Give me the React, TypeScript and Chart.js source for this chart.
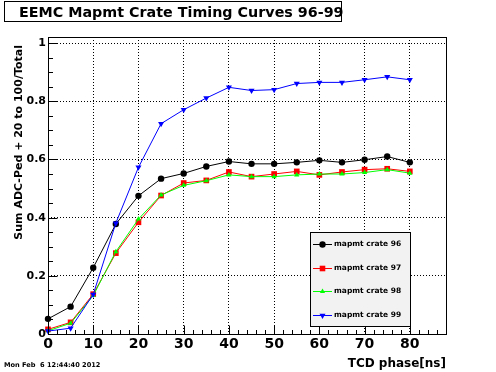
import { useEffect, useRef } from 'react';
import { Chart, registerables } from 'chart.js';

Chart.register(...registerables);

// ---- data ----
const phases = [0, 5, 10, 15, 20, 25, 30, 35, 40, 45, 50, 55, 60, 65, 70, 75, 80];
const crate96 = [0.052, 0.094, 0.228, 0.378, 0.475, 0.534, 0.552, 0.576, 0.593, 0.585, 0.585, 0.59, 0.597, 0.59, 0.599, 0.61, 0.59];
const crate97 = [0.016, 0.04, 0.137, 0.278, 0.384, 0.476, 0.519, 0.528, 0.557, 0.541, 0.55, 0.559, 0.547, 0.557, 0.565, 0.568, 0.559];
const crate98 = [0.011, 0.037, 0.132, 0.283, 0.395, 0.478, 0.511, 0.527, 0.547, 0.541, 0.541, 0.547, 0.55, 0.55, 0.555, 0.565, 0.553];
const crate99 = [0.01, 0.02, 0.136, 0.381, 0.573, 0.723, 0.771, 0.811, 0.848, 0.837, 0.84, 0.861, 0.865, 0.865, 0.874, 0.884, 0.874];
const seriesLabels = ['mapmt crate 96', 'mapmt crate 97', 'mapmt crate 98', 'mapmt crate 99'];
const seriesColors = ['#000000', '#ff0000', '#00ff00', '#0000ff'];

const titleText = 'EEMC Mapmt Crate Timing Curves 96-99';
const xTitle = 'TCD phase[ns]';
const yTitle = 'Sum ADC-Ped + 20 to 100/Total';
const dateText = 'Mon Feb  6 12:44:40 2012';

const xMin = 0, xMax = 88, xMajor = 10, xMinor = 2;
const yMin = 0, yMax = 1.021, yMajor = 0.2, yMinor = 0.05;

const FONT = 'DejaVu Sans';

function drawMarker(ctx: CanvasRenderingContext2D, kind: number, x: number, y: number, color: string) {
  ctx.fillStyle = color;
  ctx.beginPath();
  if (kind === 0) {
    ctx.arc(x, y, 3.2, 0, Math.PI * 2);
  } else if (kind === 1) {
    ctx.rect(x - 2.8, y - 2.8, 5.6, 5.6);
  } else if (kind === 2) {
    ctx.moveTo(x, y - 3); ctx.lineTo(x + 2.6, y + 1.5); ctx.lineTo(x - 2.6, y + 1.5); ctx.closePath();
  } else {
    ctx.moveTo(x, y + 3.5); ctx.lineTo(x + 3, y - 1.75); ctx.lineTo(x - 3, y - 1.75); ctx.closePath();
  }
  ctx.fill();
}

const decorPlugin = {
  id: 'rootDecor',
  afterDraw(chart: any) {
    const ctx: CanvasRenderingContext2D = chart.ctx;
    const { left, right, top, bottom } = chart.chartArea;
    const xs = chart.scales.x;
    const ys = chart.scales.y;
    ctx.save();
    ctx.setLineDash([]);
    ctx.strokeStyle = '#000';
    ctx.lineWidth = 1;
    // frame
    const L = Math.round(left) + 0.5, R = Math.round(right) + 0.5, T = Math.round(top) + 0.5, B = Math.round(bottom) + 0.5;
    ctx.strokeRect(L, T, R - L, B - T);
    // ticks (inside)
    ctx.beginPath();
    const nx = Math.round((xMax - xMin) / xMinor);
    for (let k = 0; k <= nx; k++) {
      const v = xMin + k * xMinor;
      const px = Math.round(xs.getPixelForValue(v)) + 0.5;
      const major = Math.abs(v / xMajor - Math.round(v / xMajor)) < 1e-6;
      const len = major ? 9 : 4.5;
      ctx.moveTo(px, B);
      ctx.lineTo(px, B - len);
    }
    const ny = Math.floor((yMax - yMin) / yMinor + 1e-6);
    for (let k = 0; k <= ny; k++) {
      const v = yMin + k * yMinor;
      const py = Math.round(ys.getPixelForValue(v)) + 0.5;
      const major = k % Math.round(yMajor / yMinor) === 0;
      const len = major ? 9 : 4.5;
      ctx.moveTo(L, py);
      ctx.lineTo(L + len, py);
    }
    ctx.stroke();

    // title box
    ctx.fillStyle = '#fff';
    ctx.fillRect(4.5, 1.5, 337, 20);
    ctx.strokeRect(4.5, 1.5, 337, 20);
    ctx.fillStyle = '#000';
    ctx.font = `bold 14.3px "${FONT}"`;
    ctx.textAlign = 'left';
    ctx.textBaseline = 'alphabetic';
    ctx.fillText(titleText, 19, 17);

    // x title
    ctx.font = `bold 12px "${FONT}"`;
    ctx.textAlign = 'right';
    ctx.fillText(xTitle, 446, 367);

    // y title
    ctx.save();
    ctx.translate(22, 45);
    ctx.rotate(-Math.PI / 2);
    ctx.font = `bold 11px "${FONT}"`;
    ctx.textAlign = 'right';
    ctx.textBaseline = 'alphabetic';
    ctx.fillText(yTitle, 0, 0);
    ctx.restore();

    // date
    ctx.font = `bold 6.6px "${FONT}"`;
    ctx.textAlign = 'left';
    ctx.fillText(dateText, 4, 367);

    // legend
    const lx0 = 310.5, ly0 = 232.5, lw = 100, lh = 94;
    ctx.fillStyle = '#f2f2f2';
    ctx.fillRect(lx0, ly0, lw, lh);
    ctx.strokeStyle = '#000';
    ctx.strokeRect(lx0, ly0, lw, lh);
    const rowH = lh / seriesLabels.length;
    chart.data.datasets.forEach((ds: any, i: number) => {
      const cy = Math.round(ly0 + rowH * (i + 0.5)) + 0.5;
      ctx.strokeStyle = ds.borderColor;
      ctx.beginPath();
      ctx.moveTo(lx0 + 2.5, cy);
      ctx.lineTo(lx0 + 21.5, cy);
      ctx.stroke();
      drawMarker(ctx, i, lx0 + 12, cy, ds.borderColor);
      ctx.fillStyle = '#000';
      ctx.font = `bold 7.5px "${FONT}"`;
      ctx.textAlign = 'left';
      ctx.textBaseline = 'middle';
      ctx.fillText(ds.label, lx0 + 23.5, cy);
    });
    ctx.restore();
  },
};

export default function App() {
  const ref = useRef<HTMLCanvasElement | null>(null);
  useEffect(() => {
    if (!ref.current) return;
    const series = [crate96, crate97, crate98, crate99];
    const styles: any[] = [
      { pointStyle: 'circle', pointRadius: 3.2, rotation: 0 },
      { pointStyle: 'rect', pointRadius: 4, rotation: 0 },
      { pointStyle: 'triangle', pointRadius: 3, rotation: 0 },
      { pointStyle: 'triangle', pointRadius: 3.5, rotation: 180 },
    ];
    const chart = new Chart(ref.current, {
      type: 'line',
      data: {
        datasets: series.map((vals, i) => ({
          label: seriesLabels[i],
          data: phases.map((p, j) => ({ x: p, y: vals[j] })),
          borderColor: seriesColors[i],
          backgroundColor: seriesColors[i],
          borderWidth: 1,
          pointBorderWidth: 0,
          pointBackgroundColor: seriesColors[i],
          pointBorderColor: seriesColors[i],
          tension: 0,
          fill: false,
          clip: false as any,
          order: 3 - i,
          ...styles[i],
        })),
      },
      plugins: [decorPlugin],
      options: {
        responsive: false,
        animation: false,
        devicePixelRatio: 1,
        layout: { padding: { left: 0, right: 50, top: 37, bottom: 0 } },
        plugins: { legend: { display: false }, title: { display: false }, tooltip: { enabled: false } },
        events: [],
        scales: {
          x: {
            type: 'linear',
            min: xMin,
            max: xMax,
            afterFit: (s: any) => { s.height = 38; },
            ticks: {
              stepSize: xMajor,
              includeBounds: false,
              color: '#000',
              padding: 2,
              maxRotation: 0,
              font: { family: FONT, weight: 'bold', size: 14 },
            },
            grid: { color: '#000', lineWidth: 1, drawTicks: false },
            border: { display: false, dash: [1, 2] },
          },
          y: {
            type: 'linear',
            min: yMin,
            max: yMax,
            afterFit: (s: any) => { s.width = 48; },
            ticks: {
              stepSize: yMajor,
              includeBounds: false,
              color: '#000',
              padding: 2,
              font: { family: FONT, weight: 'bold', size: 11 },
              callback: (v: any) => String(Math.round(Number(v) * 10) / 10),
            },
            grid: { color: '#000', lineWidth: 1, drawTicks: false },
            border: { display: false, dash: [1, 2] },
          },
        },
      } as any,
    });
    return () => chart.destroy();
  }, []);
  return (
    <div style={{ position: 'absolute', left: 0, top: 0, width: 496, height: 372, background: '#fff' }}>
      <canvas ref={ref} width={496} height={372} />
    </div>
  );
}
